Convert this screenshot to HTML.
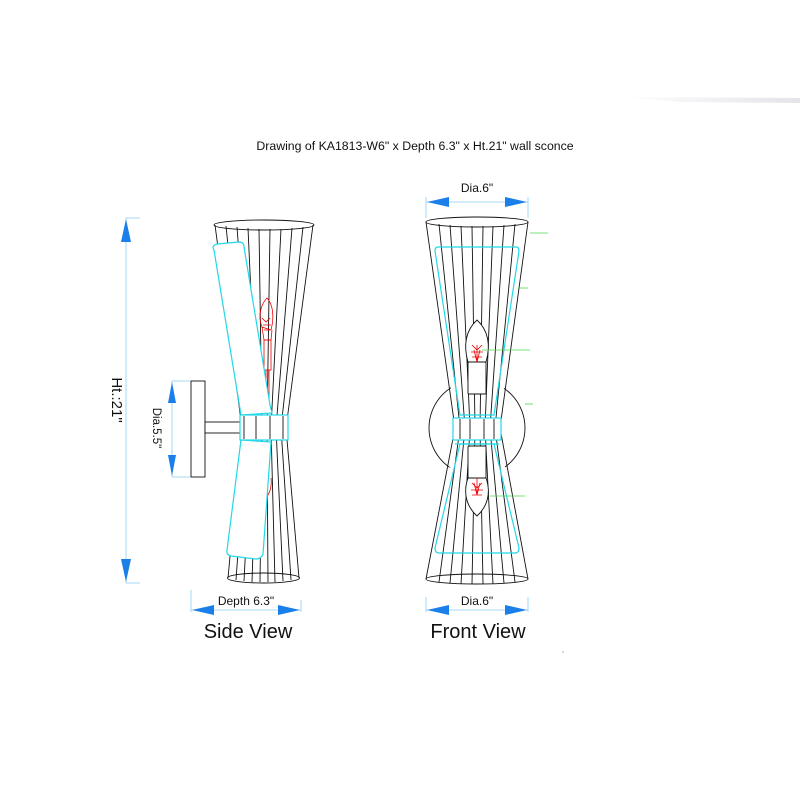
<!DOCTYPE html>
<html><head><meta charset="utf-8"><style>
html,body{margin:0;padding:0;background:#fff;}
svg{display:block;font-family:"Liberation Sans",Arial,sans-serif;}
</style></head><body>
<svg width="800" height="800" viewBox="0 0 800 800" xmlns="http://www.w3.org/2000/svg">
<defs>
<linearGradient id="g1" x1="0" x2="1"><stop offset="0" stop-color="#fff"/><stop offset="1" stop-color="#d8d8e0"/></linearGradient>
</defs>
<polygon points="620,97 800,98 800,103 680,102" fill="url(#g1)" opacity="0.7"/>

<text x="415" y="150" font-size="12.3" text-anchor="middle" fill="#111">Drawing of KA1813-W6" x Depth 6.3" x Ht.21" wall sconce</text>

<!-- ===== SIDE VIEW ===== -->
<g stroke="#111" stroke-width="0.9" fill="none">
<ellipse cx="264" cy="225" rx="50" ry="5"/>
<ellipse cx="263.5" cy="578" rx="36" ry="5"/>
<polyline points="215,225 242,428 228,578"/>
<polyline points="226,226 247,428 236,580"/>
<polyline points="237,227 252,428 244,581"/>
<polyline points="248,228 257,428 252,582"/>
<polyline points="259,229 262,428 260,582"/>
<polyline points="270,229 267,428 268,582"/>
<polyline points="281,229 271,428 275,582"/>
<polyline points="292,228 276,428 283,581"/>
<polyline points="303,227 281,428 291,580"/>
<polyline points="313,225 286,428 299,578"/>
<rect x="191" y="381" width="14" height="96" fill="#fff"/>
<rect x="205" y="422" width="35" height="11" fill="#fff"/>
</g>
<g stroke="#e00" stroke-width="0.8" fill="none">
<path d="M262,327 C257,315 262,303 267,298 C272,303 275,315 271,330 Z"/>
<path d="M262,327 L264,340 L271,340 L272,330"/>
<rect x="264" y="340" width="7" height="30"/>
<line x1="266" y1="370" x2="266" y2="405"/><line x1="269" y1="370" x2="269" y2="405"/>
<path d="M262,318 l4,4 l4,-4 M263,325 h8 M264,330 h6" />
<path d="M266,470 L266,478 C262,483 261,492 265,498 C270,495 272,485 271,478"/>
<path d="M263,490 l4,2" />
</g>
<g stroke="#22d8e8" stroke-width="1.2" fill="#fff">
<path d="M214,250 Q211,246 217,244 L239,242 Q244,242 244,247 L270,405 L272,413 L241,415 Z"/>
<path d="M241,440 L271,442 L263,554 Q261,559 256,559 L231,556 Q226,555 227,550 Z"/>
<rect x="240" y="415" width="48" height="25"/>
</g>
<g stroke="#111" stroke-width="0.9">
<line x1="244" y1="416" x2="244" y2="439"/><line x1="256" y1="416" x2="256" y2="439"/>
<line x1="270" y1="416" x2="270" y2="439"/><line x1="283" y1="416" x2="283" y2="439"/>
</g>

<g stroke="#8ecdf2" stroke-width="0.8">
<line x1="126" y1="218" x2="126" y2="583"/>
<line x1="126" y1="218" x2="140" y2="218"/><line x1="126" y1="583" x2="140" y2="583"/>
<line x1="172" y1="381" x2="172" y2="477"/>
<line x1="172" y1="381" x2="190" y2="381"/><line x1="172" y1="477" x2="190" y2="477"/>
</g>
<g fill="#1a7fe8">
<polygon points="126,219 121,242 131,242"/>
<polygon points="126,582 121,559 131,559"/>
<polygon points="172,382 168,403 176,403"/>
<polygon points="172,476 168,455 176,455"/>
</g>
<text transform="translate(112,400) rotate(90)" font-size="15" text-anchor="middle" fill="#111">Ht.:21"</text>
<text transform="translate(153,428) rotate(90)" font-size="11.5" text-anchor="middle" fill="#111">Dia.5.5"</text>

<g stroke="#8ecdf2" stroke-width="0.8">
<line x1="191" y1="610" x2="301" y2="610"/>
<line x1="191" y1="590" x2="191" y2="612"/><line x1="301" y1="600" x2="301" y2="612"/>
</g>
<g fill="#1a7fe8">
<polygon points="192,610 214,605 214,615"/>
<polygon points="300,610 278,605 278,615"/>
</g>
<text x="246" y="605" font-size="12" text-anchor="middle" fill="#111">Depth 6.3"</text>
<text x="248" y="638" font-size="20" text-anchor="middle" fill="#111">Side View</text>

<!-- ===== FRONT VIEW ===== -->
<circle cx="477" cy="428" r="48" stroke="#111" stroke-width="0.9" fill="#fff"/>
<polygon points="428,222 455,418 455,440 428,579 526,579 500,440 500,418 526,222" fill="#fff"/>
<g stroke="#111" stroke-width="0.9" fill="none">
<ellipse cx="477" cy="222" rx="51" ry="5"/>
<ellipse cx="477" cy="579" rx="51" ry="5"/>
<polyline points="426,222 455,428 426,579"/>
<polyline points="439,224 460,428 439,582"/>
<polyline points="450,225 465,428 450,583"/>
<polyline points="461,226 470,428 461,584"/>
<polyline points="472,226 475,428 472,584"/>
<polyline points="483,226 480,428 483,584"/>
<polyline points="493,226 485,428 493,584"/>
<polyline points="504,225 490,428 504,583"/>
<polyline points="515,224 495,428 515,582"/>
<polyline points="528,222 500,428 528,579"/>
</g>
<g stroke="#22d8e8" stroke-width="1.2" fill="none">
<path d="M438,247 L516,247 Q519,247 519,251 L494,415 L460,415 L435,251 Q435,247 438,247 Z"/>
<path d="M460,444 L494,444 L519,548 Q519,553 515,553 L439,553 Q435,553 435,548 Z"/>
<rect x="453" y="418" width="48" height="22" fill="#fff"/>
<line x1="455" y1="444" x2="499" y2="444"/>
</g>
<g stroke="#111" stroke-width="0.9">
<line x1="460" y1="419" x2="460" y2="439"/><line x1="470" y1="419" x2="470" y2="439"/>
<line x1="484" y1="419" x2="484" y2="439"/><line x1="494" y1="419" x2="494" y2="439"/>
</g>
<g stroke="#111" stroke-width="0.9" fill="#fff">
<path d="M477,320 C466,330 463,345 468,362 L486,362 C491,345 488,330 477,320 Z"/>
<rect x="468" y="362" width="18" height="32" rx="1"/>
<rect x="468" y="446" width="18" height="32" rx="1"/>
<path d="M477,516 C466,506 463,492 468,478 L486,478 C491,492 488,506 477,516 Z"/>
</g>
<g stroke="#e00" stroke-width="0.8" fill="none">
<path d="M472,345 l5,5 l5,-5 M471,352 h12 M472,357 h10 M477,345 v17 M474,350 l3,12 l3,-12"/>
<path d="M472,483 l5,5 l5,-5 M471,490 h12 M472,495 h10 M477,478 v17 M474,483 l3,12 l3,-12"/>
</g>
<g stroke="#4cd64c" stroke-width="0.8">
<line x1="530" y1="233" x2="548" y2="233"/>
<line x1="518" y1="288" x2="528" y2="288"/>
<line x1="482" y1="350" x2="530" y2="350"/>
<line x1="525" y1="404" x2="533" y2="404"/>
<line x1="490" y1="496" x2="525" y2="496"/>
</g>

<g stroke="#8ecdf2" stroke-width="0.8">
<line x1="426" y1="202" x2="528" y2="202"/>
<line x1="426" y1="197" x2="426" y2="218"/><line x1="528" y1="197" x2="528" y2="218"/>
<line x1="426" y1="610" x2="528" y2="610"/>
<line x1="426" y1="597" x2="426" y2="612"/><line x1="528" y1="597" x2="528" y2="612"/>
</g>
<g fill="#1a7fe8">
<polygon points="427,202 449,197 449,207"/>
<polygon points="527,202 505,197 505,207"/>
<polygon points="427,610 449,605 449,615"/>
<polygon points="527,610 505,605 505,615"/>
</g>
<text x="477" y="192" font-size="12" text-anchor="middle" fill="#111">Dia.6"</text>
<text x="477" y="605" font-size="12" text-anchor="middle" fill="#111">Dia.6"</text>
<text x="478" y="638" font-size="20" text-anchor="middle" fill="#111">Front View</text>
<circle cx="563" cy="652" r="1" fill="#ccc"/>
</svg>
</body></html>
